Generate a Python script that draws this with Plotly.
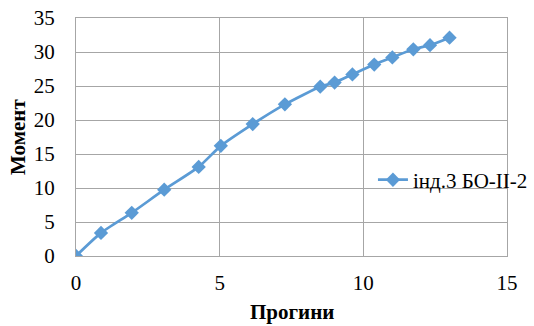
import plotly.graph_objects as go

x_vals = [0, 0.87, 1.94, 3.07, 4.27, 5.04, 6.15, 7.27, 8.5, 9.0, 9.62, 10.38, 11.01, 11.74, 12.32, 13.0]
y_vals = [0, 3.4, 6.35, 9.75, 13.1, 16.2, 19.4, 22.3, 24.9, 25.5, 26.7, 28.15, 29.2, 30.4, 31.0, 32.1]
series_name = "інд.3 БО-ІІ-2"
x_title = "Прогини"
y_title = "Момент"

color = "#5B9BD5"
grid = "#A6A6A6"
font = "Liberation Serif"
fs = 21

fig = go.Figure()
fig.add_trace(go.Scatter(
    x=x_vals, y=y_vals, name=series_name, mode="lines+markers",
    line=dict(color=color, width=2.75, shape="spline", smoothing=0.6),
    marker=dict(symbol="diamond", size=11, color=color),
))
fig.update_layout(
    width=534, height=326,
    margin=dict(l=76, r=27, t=18, b=70, autoexpand=False),
    paper_bgcolor="white", plot_bgcolor="white",
    font=dict(family=font, size=fs, color="black"),
    showlegend=True,
    legend=dict(x=0.689, y=0.319, xanchor="left", yanchor="middle",
                bgcolor="rgba(0,0,0,0)", font=dict(size=fs, family=font, color="black"),
                itemwidth=30),
    annotations=[
        dict(text="<b>" + x_title + "</b>", xref="paper", yref="paper", x=0.5, y=-0.235,
             xanchor="center", yanchor="middle", showarrow=False,
             font=dict(family=font, size=fs, color="black")),
        dict(text="<b>" + y_title + "</b>", xref="paper", yref="paper", x=-0.1346, y=0.5,
             xanchor="center", yanchor="middle", showarrow=False, textangle=-90,
             font=dict(family=font, size=fs, color="black")),
    ],
)
fig.update_xaxes(range=[0, 15], dtick=5, tick0=0, showgrid=True, gridcolor=grid, gridwidth=1,
                 showline=True, linecolor=grid, mirror=True, zeroline=False,
                 ticks="", ticklen=0, automargin=False, ticklabelstandoff=8,
                 ticklabeloverflow="allow",
                 tickfont=dict(family=font, size=fs, color="black"))
fig.update_yaxes(range=[0, 35], dtick=5, tick0=0, showgrid=True, gridcolor=grid, gridwidth=1,
                 showline=True, linecolor=grid, mirror=True, zeroline=False,
                 ticks="", ticklen=0, automargin=False, ticklabelstandoff=16,
                 ticklabeloverflow="allow",
                 tickfont=dict(family=font, size=fs, color="black"))
fig.write_html("out.html", config={"displayModeBar": False},
               post_script="document.body.style.margin='0';")
